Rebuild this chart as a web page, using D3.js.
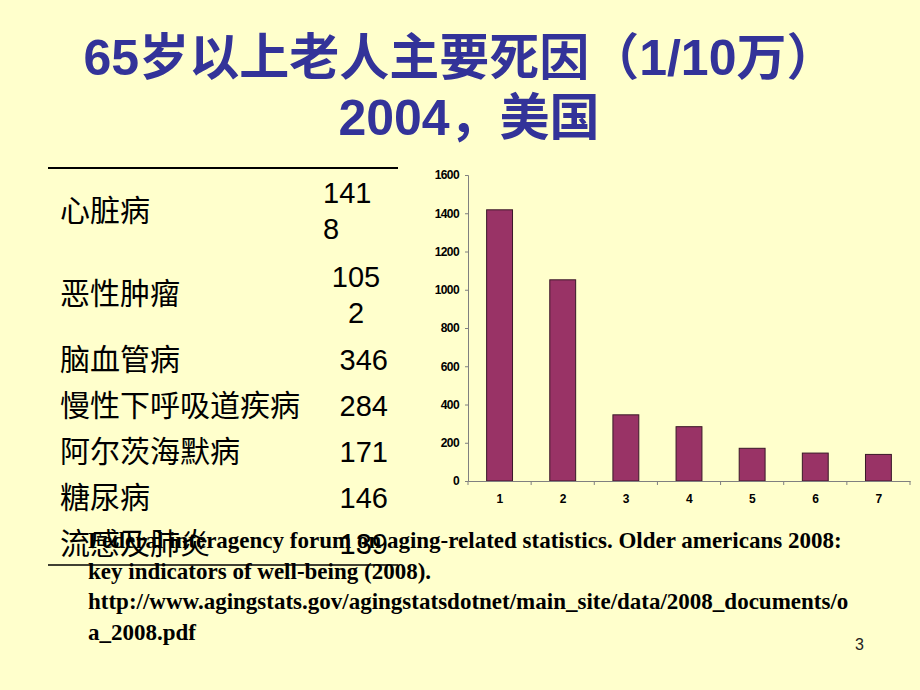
<!DOCTYPE html>
<html>
<head>
<meta charset="utf-8">
<script src="https://cdn.jsdelivr.net/npm/d3@7"></script>
<style>
  body { margin: 0; background: #ffffcc; }
  svg { display: block; }
</style>
</head>
<body>
<script>
// data
var titleLines = ["65岁以上老人主要死因（1/10万）", "2004，美国"];
var causes = ["心脏病", "恶性肿瘤", "脑血管病", "慢性下呼吸道疾病", "阿尔茨海默病", "糖尿病", "流感及肺炎"];
var rates = [1418, 1052, 346, 284, 171, 146, 139];
var barLabels = ["1", "2", "3", "4", "5", "6", "7"];
var yTicks = [0, 200, 400, 600, 800, 1000, 1200, 1400, 1600];
var sourceLines = [
  "Federal interagency forum on aging-related statistics. Older americans 2008:",
  "key indicators of well-being (2008).",
  "http://www.agingstats.gov/agingstatsdotnet/main_site/data/2008_documents/o",
  "a_2008.pdf"
];
var pageNo = "3";

var width = 920, height = 690;

var svg = d3.select("body").append("svg")
    .attr("width", width)
    .attr("height", height);

svg.append("rect")
    .attr("width", width)
    .attr("height", height)
    .attr("fill", "#ffffcc");

// title
svg.selectAll("text.title")
    .data(titleLines)
  .enter().append("text")
    .attr("class", "title")
    .attr("x", function(d, i) { return i == 0 ? 460 : 469; })
    .attr("y", function(d, i) { return i == 0 ? 75 : 135; })
    .attr("text-anchor", "middle")
    .attr("fill", "#333399")
    .style("font-family", "'Liberation Sans', Arial, 'Noto Sans CJK SC', sans-serif")
    .style("font-weight", "bold")
    .style("font-size", "50px")
    .text(function(d) { return d; });

// table on the left
var rowY = [221, 304, 370, 416, 462, 508, 554];

svg.append("line")
    .attr("x1", 48).attr("x2", 398)
    .attr("y1", 168).attr("y2", 168)
    .attr("stroke", "#000")
    .attr("stroke-width", 2);

svg.selectAll("text.cause")
    .data(causes)
  .enter().append("text")
    .attr("class", "cause")
    .attr("x", 60)
    .attr("y", function(d, i) { return rowY[i]; })
    .attr("fill", "#000")
    .style("font-family", "'Noto Sans CJK SC', sans-serif")
    .style("font-size", "30px")
    .text(function(d) { return d; });

var valText = svg.selectAll("text.val")
    .data(rates)
  .enter().append("text")
    .attr("class", "val")
    .attr("fill", "#000")
    .style("font-family", "'Liberation Sans', Arial, sans-serif")
    .style("font-size", "29px");

valText.each(function(d, i) {
  var s = String(d), t = d3.select(this);
  if (s.length > 3) {
    // the narrow column wraps the four-digit values
    var anchor = i == 0 ? "start" : "middle";
    var xx = i == 0 ? 323 : 356;
    var y0 = i == 0 ? 203 : 287;
    t.attr("text-anchor", anchor);
    t.append("tspan").attr("x", xx).attr("y", y0).text(s.slice(0, 3));
    t.append("tspan").attr("x", xx).attr("y", y0 + 36).text(s.slice(3));
  } else {
    t.attr("text-anchor", "end")
      .attr("x", 388)
      .attr("y", rowY[i])
      .text(s);
  }
});

svg.append("line")
    .attr("x1", 48).attr("x2", 398)
    .attr("y1", 565).attr("y2", 565)
    .attr("stroke", "#000")
    .attr("stroke-width", 1.5);

// bar chart
var x = d3.scaleBand()
    .domain(barLabels)
    .range([468, 910])
    .paddingInner(0.59)
    .paddingOuter(0.295);

var y = d3.scaleLinear()
    .domain([0, 1600])
    .range([481, 175]);

var chart = svg.append("g");

chart.selectAll("rect.bar")
    .data(rates)
  .enter().append("rect")
    .attr("class", "bar")
    .attr("x", function(d, i) { return x(barLabels[i]); })
    .attr("y", function(d) { return y(d); })
    .attr("width", x.bandwidth())
    .attr("height", function(d) { return y(0) - y(d); })
    .attr("fill", "#993366")
    .attr("stroke", "#3a1828")
    .attr("stroke-width", 1);

var yAxis = chart.append("g")
    .attr("transform", "translate(468,0)")
    .call(d3.axisLeft(y).tickValues(yTicks).tickFormat(d3.format("d")).tickSize(3).tickPadding(6));

var xAxis = chart.append("g")
    .attr("transform", "translate(0,481)")
    .call(d3.axisBottom(x).tickSize(0).tickPadding(13));

// category boundary ticks
chart.selectAll("line.xtick")
    .data(d3.range(barLabels.length + 1))
  .enter().append("line")
    .attr("class", "xtick")
    .attr("x1", function(d) { return 468 + d * x.step(); })
    .attr("x2", function(d) { return 468 + d * x.step(); })
    .attr("y1", 481).attr("y2", 485)
    .attr("stroke", "#808080");

[yAxis, xAxis].forEach(function(a) {
  a.select(".domain").attr("stroke", "#808080");
  a.selectAll(".tick line").attr("stroke", "#808080");
  a.selectAll("text")
    .attr("fill", "#000")
    .style("font-family", "'Liberation Sans', Arial, sans-serif")
    .style("font-weight", "bold")
    .style("font-size", "12px")
    .style("letter-spacing", "-0.6px");
});

// source note
svg.selectAll("text.src")
    .data(sourceLines)
  .enter().append("text")
    .attr("class", "src")
    .attr("x", 88)
    .attr("y", function(d, i) { return 548 + i * 30.5; })
    .attr("fill", "#000")
    .style("font-family", "'Liberation Serif', 'Times New Roman', serif")
    .style("font-weight", "bold")
    .style("font-size", "23px")
    .text(function(d) { return d; });

svg.append("text")
    .attr("x", 855)
    .attr("y", 650)
    .attr("fill", "#222")
    .style("font-family", "'Liberation Sans', Arial, sans-serif")
    .style("font-size", "16px")
    .text(pageNo);
</script>
</body>
</html>
